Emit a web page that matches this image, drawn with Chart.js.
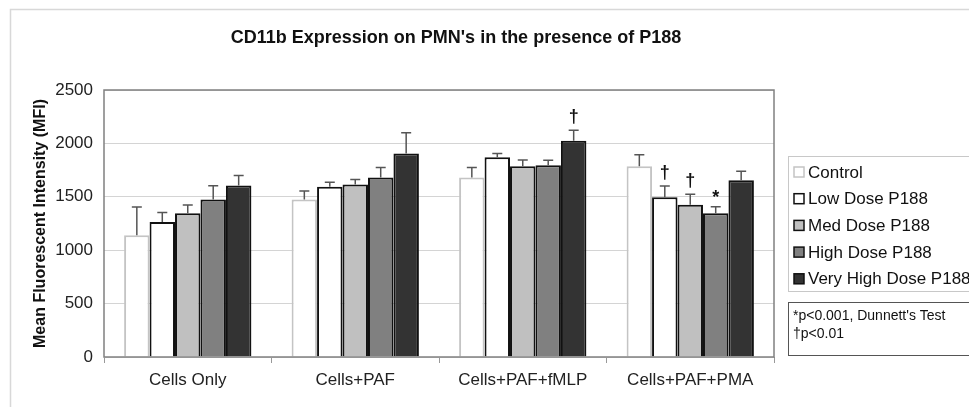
<!DOCTYPE html>
<html>
<head>
<meta charset="utf-8">
<script src="https://cdn.jsdelivr.net/npm/chart.js@4/dist/chart.umd.min.js"></script>
<style>
  html, body { margin: 0; padding: 0; background: #fff; }
  #wrap { position: relative; width: 969px; height: 407px; }
</style>
</head>
<body>
<div id="wrap"><canvas id="chart" width="969" height="407"></canvas></div>
<script>
'use strict';

// ── Datos ──────────────────────────────────────────────────────────────
const categories = ['Cells Only', 'Cells+PAF', 'Cells+PAF+fMLP', 'Cells+PAF+PMA'];
const seriesNames = ['Control', 'Low Dose P188', 'Med Dose P188', 'High Dose P188', 'Very High Dose P188'];

const control  = [1140, 1475, 1680, 1785];
const lowDose  = [1265, 1595, 1870, 1495];
const medDose  = [1345, 1615, 1785, 1425];
const highDose = [1475, 1680, 1795, 1345];
const vhDose   = [1605, 1905, 2025, 1655];

// error (SD) superior de cada barra
const errControl  = [265, 80, 95, 108];
const errLow      = [88, 42, 36, 106];
const errMed      = [78, 48, 60, 100];
const errHigh     = [128, 95, 48, 62];
const errVh       = [95, 195, 97, 84];

// marcas de significancia
const markControl = ['', '', '', ''];
const markLow     = ['', '', '', '†'];
const markMed     = ['', '', '', '†'];
const markHigh    = ['', '', '', '*'];
const markVh      = ['', '', '†', ''];

const yTicks = [0, 500, 1000, 1500, 2000, 2500];
const noteLines = ["*p<0.001, Dunnett's Test", '†p<0.01'];

// ── Estilo ─────────────────────────────────────────────────────────────
const FONT = "Arial, 'Liberation Sans', sans-serif";
const fills   = ['#ffffff', '#ffffff', '#c0c0c0', '#808080', '#333333'];
const borders = ['#c4c4c4', '#111111', '#111111', '#111111', '#111111'];

const values = [control, lowDose, medDose, highDose, vhDose];
const errors = [errControl, errLow, errMed, errHigh, errVh];
const marks  = [markControl, markLow, markMed, markHigh, markVh];

// ── Plugin: marco, barras de error, leyenda y notas ────────────────────
const decorations = {
  id: 'decorations',
  afterDatasetsDraw(chart) {
    const ctx = chart.ctx;
    const y = chart.scales.y;

    // barras de error
    ctx.save();
    ctx.strokeStyle = '#555';
    ctx.lineWidth = 1.5;
    chart.data.datasets.forEach((ds, di) => {
      const meta = chart.getDatasetMeta(di);
      meta.data.forEach((bar, i) => {
        const top = y.getPixelForValue(values[di][i] + errors[di][i]);
        ctx.beginPath();
        ctx.moveTo(bar.x, bar.y);
        ctx.lineTo(bar.x, top);
        ctx.moveTo(bar.x - 5, top);
        ctx.lineTo(bar.x + 5, top);
        ctx.stroke();
        const m = marks[di][i];
        if (m) {
          ctx.fillStyle = '#111';
          ctx.font = 'bold 18px ' + FONT;
          ctx.textAlign = 'center';
          ctx.textBaseline = 'bottom';
          ctx.fillText(m, bar.x, top - (m === '*' ? 0 : 4));
        }
      });
    });
    ctx.restore();
  },
  afterDraw(chart) {
    const ctx = chart.ctx;
    const a = chart.chartArea;
    ctx.save();

    // marco exterior
    ctx.strokeStyle = '#d8d8d8';
    ctx.lineWidth = 1.5;
    ctx.beginPath();
    ctx.moveTo(10.5, 407);
    ctx.lineTo(10.5, 9.5);
    ctx.lineTo(969, 9.5);
    ctx.stroke();

    // borde del área de trazado
    ctx.strokeStyle = '#808080';
    ctx.lineWidth = 1.5;
    ctx.strokeRect(a.left, a.top, a.right - a.left, a.bottom - a.top);

    // título
    ctx.fillStyle = '#111';
    ctx.font = 'bold 18px ' + FONT;
    ctx.textAlign = 'center';
    ctx.textBaseline = 'middle';
    ctx.fillText("CD11b Expression on PMN's in the presence of P188", 456, 38);

    // leyenda
    ctx.strokeStyle = '#c8c8c8';
    ctx.lineWidth = 1;
    ctx.strokeRect(788.5, 156.5, 200, 135);
    ctx.font = '17px ' + FONT;
    ctx.textAlign = 'left';
    seriesNames.forEach((name, i) => {
      const cy = 172 + i * 26.7;
      ctx.fillStyle = fills[i];
      ctx.fillRect(794, cy - 5, 10, 10);
      ctx.strokeStyle = i === 0 ? '#c4c4c4' : '#111';
      ctx.lineWidth = 1.5;
      ctx.strokeRect(794, cy - 5, 10, 10);
      ctx.fillStyle = '#111';
      ctx.fillText(name, 808, cy + 1);
    });

    // notas
    ctx.strokeStyle = '#555';
    ctx.lineWidth = 1;
    ctx.strokeRect(788.5, 302.5, 200, 53);
    ctx.font = '14px ' + FONT;
    ctx.fillStyle = '#111';
    noteLines.forEach((t, i) => ctx.fillText(t, 793, 316 + i * 18));

    ctx.restore();
  },
};

new Chart(document.getElementById('chart'), {
  type: 'bar',
  data: {
    labels: categories,
    datasets: seriesNames.map((name, i) => ({
      label: name,
      data: values[i],
      backgroundColor: fills[i],
      borderColor: borders[i],
      borderWidth: 2,
      barPercentage: 1.0,
      categoryPercentage: 0.76,
    })),
  },
  options: {
    responsive: false,
    animation: false,
    events: [],
    layout: { padding: { left: 0, right: 195, top: 90, bottom: 0 } },
    plugins: {
      legend: { display: false },
      title: { display: false },
      tooltip: { enabled: false },
    },
    scales: {
      x: {
        grid: { offset: true, drawOnChartArea: false, drawTicks: true, tickLength: 6, color: '#999' },
        border: { display: false },
        ticks: { color: '#222', font: { family: FONT, size: 17 }, padding: 7 },
        afterFit(scale) { scale.height = 50; },
      },
      y: {
        min: 0,
        max: 2500,
        afterBuildTicks(scale) { scale.ticks = yTicks.map(v => ({ value: v })); },
        grid: { color: '#d4d4d4', drawTicks: false, lineWidth: 1 },
        border: { display: false },
        ticks: { color: '#222', font: { family: FONT, size: 17 }, padding: 11, callback: v => String(v) },
        title: {
          display: true,
          text: 'Mean Fluorescent Intensity (MFI)',
          color: '#111',
          font: { family: FONT, size: 16, weight: 'bold' },
          padding: { top: 31, bottom: 0 },
        },
        afterFit(scale) { scale.width = 104; },
      },
    },
  },
  plugins: [decorations],
});
</script>
</body>
</html>
